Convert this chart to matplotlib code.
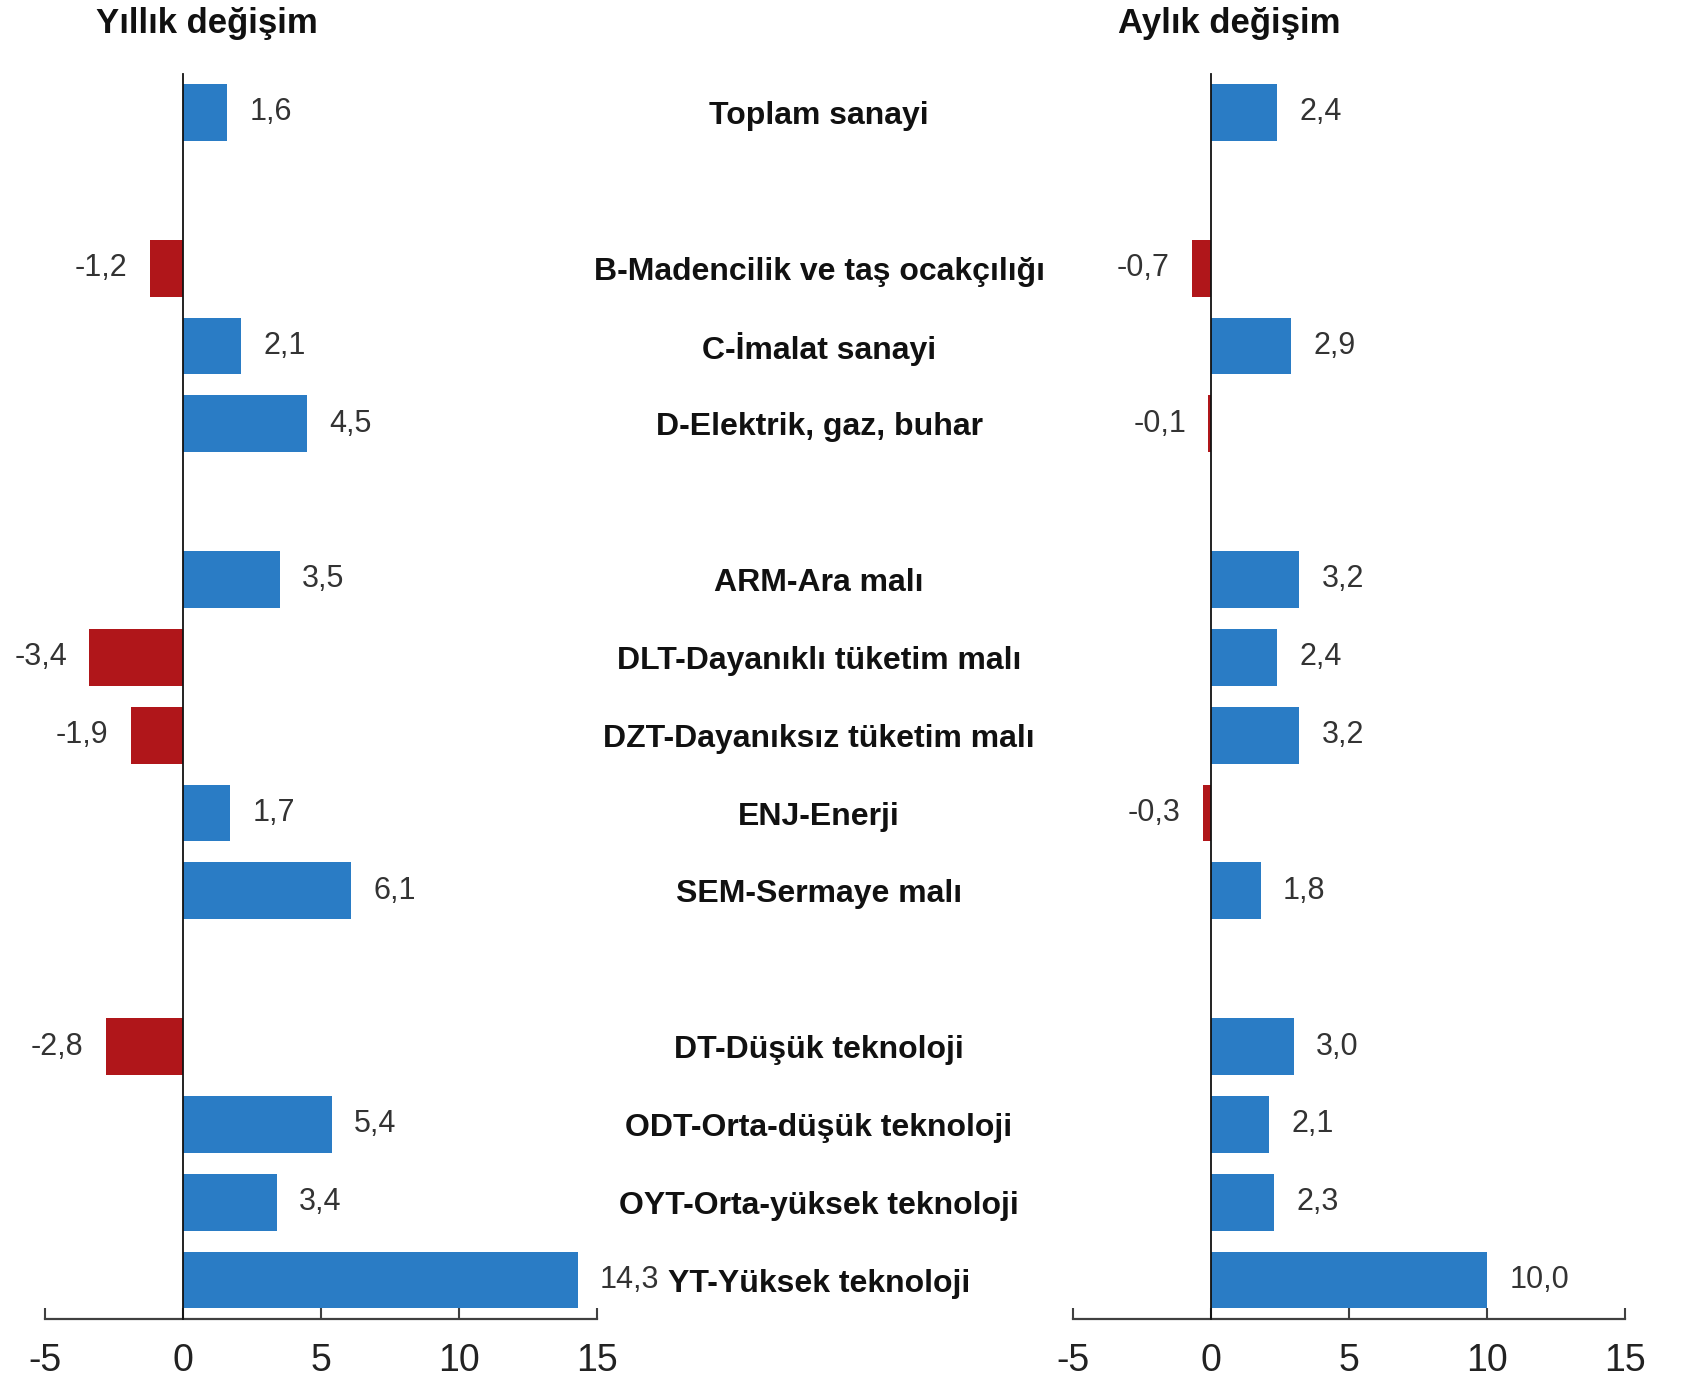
import matplotlib
matplotlib.use("Agg")
import matplotlib.pyplot as plt
from matplotlib import font_manager
from matplotlib.transforms import blended_transform_factory

# ---- data ----
categories = ["Toplam sanayi", "B-Madencilik ve taş ocakçılığı", "C-İmalat sanayi",
              "D-Elektrik, gaz, buhar", "ARM-Ara malı", "DLT-Dayanıklı tüketim malı",
              "DZT-Dayanıksız tüketim malı", "ENJ-Enerji", "SEM-Sermaye malı",
              "DT-Düşük teknoloji", "ODT-Orta-düşük teknoloji",
              "OYT-Orta-yüksek teknoloji", "YT-Yüksek teknoloji"]
groups = [0, 1, 1, 1, 2, 2, 2, 2, 2, 3, 3, 3, 3]
yearly = [1.6, -1.2, 2.1, 4.5, 3.5, -3.4, -1.9, 1.7, 6.1, -2.8, 5.4, 3.4, 14.3]
monthly = [2.4, -0.7, 2.9, -0.1, 3.2, 2.4, 3.2, -0.3, 1.8, 3.0, 2.1, 2.3, 10.0]
titles = ["Yıllık değişim", "Aylık değişim"]
xticks = [-5, 0, 5, 10, 15]

BLUE = "#2A7CC5"
RED = "#B0161A"

names = {f.name for f in font_manager.fontManager.ttflist}
NARROW = "Liberation Sans Narrow" if "Liberation Sans Narrow" in names else "Liberation Sans"
SANS = "Liberation Sans"

# positions: one empty row between groups
pos = []
p = 0
prev = groups[0]
for g in groups:
    if g != prev:
        p += 1
        prev = g
    pos.append(p)
    p += 1

W, H = 1684, 1382
fig = plt.figure(figsize=(W / 100, H / 100), dpi=100)
fig.patch.set_facecolor("white")

def px_rect(x0, x1, ytop, ybot):
    return [x0 / W, 1 - ybot / H, (x1 - x0) / W, (ybot - ytop) / H]

axL = fig.add_axes(px_rect(45, 597, 73.5, 1319))
axR = fig.add_axes(px_rect(1073, 1625, 73.5, 1319))

for ax, vals in ((axL, yearly), (axR, monthly)):
    colors = [BLUE if v >= 0 else RED for v in vals]
    ax.barh(pos, vals, height=0.73, color=colors, edgecolor="none", zorder=2)
    ax.set_xlim(-5, 15)
    ax.set_ylim(pos[-1] + 0.5, -0.5)
    ax.set_yticks([])
    ax.set_xticks(xticks)
    ax.set_xticklabels([str(t) for t in xticks], fontfamily=NARROW, fontsize=27, color="#222222")
    ax.tick_params(axis="x", direction="in", length=8, width=1.5, color="#404040", pad=17)
    for s in ("top", "right"):
        ax.spines[s].set_visible(False)
    ax.spines["left"].set_position(("data", 0))
    ax.spines["left"].set_linewidth(1.3)
    ax.spines["left"].set_color("#111111")
    ax.spines["left"].set_zorder(3)
    ax.spines["bottom"].set_linewidth(1.6)
    ax.spines["bottom"].set_color("#404040")
    ax.set_facecolor("none")
    for y, v in zip(pos, vals):
        lab = f"{v:.1f}".replace(".", ",")
        off = 16 if v >= 0 else -16
        ax.annotate(lab, (v, y), xytext=(off, 0), textcoords="offset points",
                    ha="left" if v >= 0 else "right", va="center",
                    fontfamily=NARROW, fontsize=22, color="#333333")

# category labels in the middle
tr = blended_transform_factory(fig.transFigure, axL.transData)
for y, c in zip(pos, categories):
    axL.text(819 / W, y, c, transform=tr, ha="center", va="center_baseline",
             fontfamily=SANS, fontweight="bold", fontsize=23, color="#111111",
             clip_on=False)

fig.text(207 / W, 1 - 24 / H, titles[0], ha="center", va="center",
         fontfamily=SANS, fontweight="bold", fontsize=25, color="#111111")
fig.text(1229 / W, 1 - 23 / H, titles[1], ha="center", va="center",
         fontfamily=SANS, fontweight="bold", fontsize=25, color="#111111")

fig.savefig("out.png", dpi=100, facecolor="white")
